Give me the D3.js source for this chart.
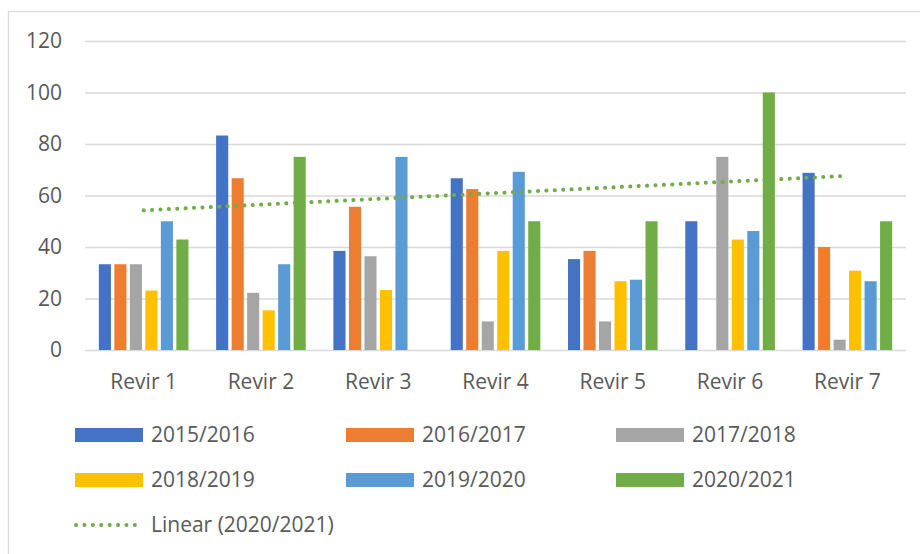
<!DOCTYPE html>
<html>
<head>
<meta charset="utf-8">
<script src="https://cdn.jsdelivr.net/npm/d3@7"></script>
<style>
	body { margin: 0; background: #fff; }
	svg { display: block; font-family: "Open Sans", sans-serif; }
</style>
</head>
<body>
<script>
// Chart data
var categories = ["Revir 1", "Revir 2", "Revir 3", "Revir 4", "Revir 5", "Revir 6", "Revir 7"];
var seriesNames = ["2015/2016", "2016/2017", "2017/2018", "2018/2019", "2019/2020", "2020/2021"];
var s2015 = [33.3, 83.3, 38.5, 66.7, 35.3, 50, 68.8];
var s2016 = [33.3, 66.7, 55.6, 62.5, 38.5, 0, 40];
var s2017 = [33.3, 22.2, 36.4, 11.1, 11.1, 75, 4];
var s2018 = [23.1, 15.4, 23.3, 38.5, 26.7, 42.9, 30.8];
var s2019 = [50, 33.3, 75, 69.2, 27.3, 46.2, 26.7];
var s2020 = [42.9, 75, null, 50, 50, 100, 50];
var yTicks = [0, 20, 40, 60, 80, 100, 120];
var trendLabel = "Linear (2020/2021)";

var seriesValues = [s2015, s2016, s2017, s2018, s2019, s2020];
var colors = ["#4472c4", "#ed7d31", "#a5a5a5", "#ffc000", "#5b9bd5", "#70ad47"];

var width = 920, height = 554;
// plot area edges (note: "top" is reserved on window, so use plot* names)
var plotLeft = 85, plotRight = 906, plotTop = 41, plotBottom = 350;
var textColor = "#595959";
var fontSize = 21;

var svg = d3.select("body")
	.append("svg")
		.attr("width", width)
		.attr("height", height);

// Chart border (only top and left edges are visible in the frame)
svg.append("rect")
	.attr("x", 8.5)
	.attr("y", 11.5)
	.attr("width", width + 20)
	.attr("height", height + 20)
	.attr("fill", "none")
	.attr("stroke", "#d9d9d9")
	.attr("stroke-width", 1.3);

var y = d3.scaleLinear()
	.domain([0, 120])
	.range([plotBottom, plotTop]);

var x0 = d3.scaleBand()
	.domain(categories)
	.range([plotLeft, plotRight])
	.paddingInner(0.207)
	.paddingOuter(0.1035);

var x1 = d3.scaleBand()
	.domain(seriesNames)
	.range([0, x0.bandwidth()])
	.paddingInner(0.22)
	.paddingOuter(0.11);

// Y axis with gridlines
var yAxis = svg.append("g")
	.attr("transform", "translate(" + plotLeft + ",0)")
	.call(d3.axisLeft(y)
		.tickValues(yTicks)
		.tickSize(-(plotRight - plotLeft))
		.tickPadding(23));
yAxis.select(".domain").remove();
yAxis.selectAll("line")
	.attr("stroke", "#d9d9d9")
	.attr("stroke-width", 1.3);
yAxis.selectAll("text")
	.attr("fill", textColor)
	.attr("font-size", fontSize)
	.attr("font-family", "Open Sans, sans-serif");

// Bars
var rows = [];
seriesValues.forEach(function(vals, si) {
	vals.forEach(function(v, ci) {
		if (v !== null && v > 0) {
			rows.push({ series: seriesNames[si], cat: categories[ci], value: v, color: colors[si] });
		}
	});
});

svg.append("g")
	.selectAll("rect")
	.data(rows)
	.enter().append("rect")
		.attr("x", function(d) { return x0(d.cat) + x1(d.series); })
		.attr("y", function(d) { return y(d.value); })
		.attr("width", x1.bandwidth())
		.attr("height", function(d) { return y(0) - y(d.value); })
		.attr("fill", function(d) { return d.color; });

// X axis labels
var xAxis = svg.append("g")
	.attr("transform", "translate(0," + plotBottom + ")")
	.call(d3.axisBottom(x0).tickSize(0).tickPadding(24));
xAxis.select(".domain").remove();
xAxis.selectAll("text")
	.attr("fill", textColor)
	.attr("font-size", fontSize)
	.attr("font-family", "Open Sans, sans-serif");

// Linear trendline for 2020/2021 (least squares over the non-empty points)
var pts = [];
s2020.forEach(function(v, i) { if (v !== null) pts.push([i + 1, v]); });
var mx = d3.mean(pts, function(p) { return p[0]; });
var my = d3.mean(pts, function(p) { return p[1]; });
var sxy = d3.sum(pts, function(p) { return (p[0] - mx) * (p[1] - my); });
var sxx = d3.sum(pts, function(p) { return (p[0] - mx) * (p[0] - mx); });
var slope = sxy / sxx;
var intercept = my - slope * mx;

var trend = categories.map(function(c, i) {
	return { cat: c, value: intercept + slope * (i + 1) };
});

svg.append("path")
	.datum(trend)
	.attr("fill", "none")
	.attr("stroke", colors[5])
	.attr("stroke-width", 4)
	.attr("stroke-linecap", "round")
	.attr("stroke-dasharray", "0.1 8.3")
	.attr("d", d3.line()
		.x(function(d) { return x0(d.cat) + x0.bandwidth() / 2; })
		.y(function(d) { return y(d.value); }));

// Legend
var legendX = [75, 346, 616];
var legendY = [435, 480];

var legend = svg.append("g")
	.selectAll("g")
	.data(seriesNames)
	.enter().append("g")
		.attr("transform", function(d, i) {
			return "translate(" + legendX[i % 3] + "," + legendY[Math.floor(i / 3)] + ")";
		});

legend.append("rect")
	.attr("x", 0)
	.attr("y", -7)
	.attr("width", 68)
	.attr("height", 14)
	.attr("fill", function(d, i) { return colors[i]; });

legend.append("text")
	.attr("x", 76)
	.attr("y", 0)
	.attr("dy", "0.35em")
	.attr("fill", textColor)
	.attr("font-size", fontSize)
	.text(function(d) { return d; });

var trendLegend = svg.append("g")
	.attr("transform", "translate(75,525)");

trendLegend.append("line")
	.attr("x1", 1)
	.attr("x2", 68)
	.attr("stroke", colors[5])
	.attr("stroke-width", 4)
	.attr("stroke-linecap", "round")
	.attr("stroke-dasharray", "0.1 8.3");

trendLegend.append("text")
	.attr("x", 76)
	.attr("dy", "0.35em")
	.attr("fill", textColor)
	.attr("font-size", fontSize)
	.text(trendLabel);
</script>
</body>
</html>
